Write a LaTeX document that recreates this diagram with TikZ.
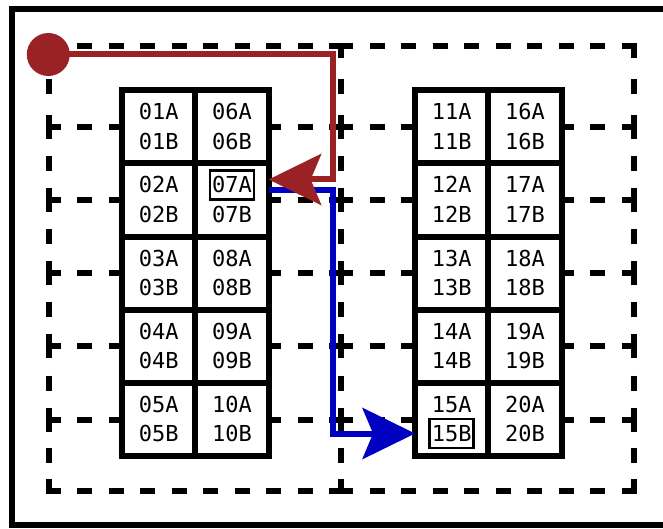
\documentclass[tikz,border=0pt]{standalone}
\usepackage{fontspec}
\setmonofont{DejaVu Sans Mono}
\usetikzlibrary{arrows.meta,calc}

\definecolor{linkred}{RGB}{155,34,36}
\definecolor{linkblue}{RGB}{0,0,192}
\newcommand{\slotnum}[1]{\ifnum#1<10 0\fi#1}

\begin{document}
\begin{tikzpicture}[
  x=1pt,y=-1pt,
  font=\ttfamily\fontsize{22}{26}\selectfont,
  >={Stealth[length=53pt,width=52pt,inset=11pt,line width=0pt]},
  cell/.style={draw, line width=6pt, fill=white, minimum width=73.3pt, minimum height=73pt, inner sep=0pt, outer sep=0pt},
  slot/.style={inner sep=0pt, text height=16pt, text depth=0pt},
  picked/.style={draw, line width=2.7pt, minimum width=44pt, minimum height=29pt, inner sep=0pt},
  zone/.style={dash pattern=on 15pt off #1pt, line width=6pt},
  redflow/.style={->, linkred, line width=6pt},
  blueflow/.style={->, linkblue, line width=6pt},
]
\clip (0,0) rectangle (663,529);
\draw[line width=6pt] (11.5,9.5) rectangle (690,525);

%% ---------- ZONES ----------
% every side starts and ends on a dash
\foreach \x in {48.7,341,634}
  \foreach \ya/\yb in {46/127,127/199.7,199.7/273,273/346,346/420,420/491} {
    \pgfmathsetmacro{\len}{\yb-\ya+6}
    \pgfmathtruncatemacro{\cnt}{round((\len+15)/30)}
    \pgfmathsetmacro{\gap}{(\len-15*\cnt)/(\cnt-1)}
    \draw[zone=\gap] (\x,\ya-3) -- (\x,\yb+3);
  }
\foreach \y in {46,127,199.7,273,346,420,491}
  \foreach \xa/\xb in {48.7/341,341/634} {
    \pgfmathsetmacro{\len}{\xb-\xa+6}
    \pgfmathtruncatemacro{\cnt}{round((\len+15)/30)}
    \pgfmathsetmacro{\gap}{(\len-15*\cnt)/(\cnt-1)}
    \draw[zone=\gap] (\xa-3,\y) -- (\xb+3,\y);
  }

%% ---------- SLOTS ----------
\foreach \col/\cx in {0/158.7,1/232,2/451.7,3/525} {
  \foreach \row in {1,...,5} {
    \pgfmathtruncatemacro{\n}{5*\col+\row}
    \edef\id{\slotnum{\n}}
    \node[cell] (c\id) at (\cx,54+73*\row) {};
    \node[slot] (l\id A) at ($(c\id)+(0,-15)$) {\id A};
    \node[slot] (l\id B) at ($(c\id)+(0,14.5)$) {\id B};
  }
}
\node[picked] (k07A) at (l07A) {};
\node[picked] (k15B) at (l15B) {};

%% ---------- PATHS ----------
\node[circle, fill=linkred, minimum size=43pt, inner sep=0pt] (start) at (48.3,54.5) {};
\coordinate (in07)  at ($(c07.east |- l07A)+(0,-5.5)$);
\coordinate (out07) at ($(c07.east |- l07A)+(0,5.5)$);
\draw[blueflow] (out07) -- ++(64,0) |- (c15.west |- l15B);
\draw[redflow] (start.center) -| ($(in07)+(64,0)$) -- (in07);
\end{tikzpicture}
\end{document}
